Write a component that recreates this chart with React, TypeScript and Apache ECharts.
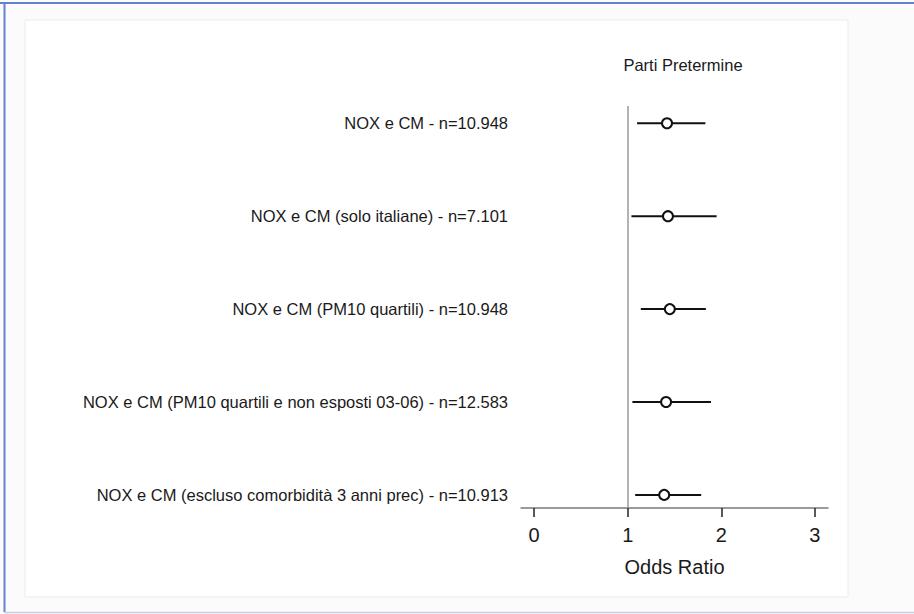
import React, { useEffect, useRef } from "react";
import * as echarts from "echarts";

const categories = [
  "NOX e CM - n=10.948",
  "NOX e CM (solo italiane) - n=7.101",
  "NOX e CM (PM10 quartili) - n=10.948",
  "NOX e CM (PM10 quartili e non esposti 03-06) - n=12.583",
  "NOX e CM (escluso comorbidità 3 anni prec) - n=10.913",
];
const estimates = [1.42, 1.43, 1.45, 1.41, 1.39];
const lowerCI = [1.1, 1.04, 1.14, 1.05, 1.08];
const upperCI = [1.83, 1.95, 1.835, 1.89, 1.785];
const xTicks = [0, 1, 2, 3];
const rowIndex = [0, 1, 2, 3, 4];
const referenceValue = 1;
const titleText = "Parti Pretermine";
const xAxisName = "Odds Ratio";

const FONT = "'Liberation Sans', Arial, Helvetica, sans-serif";

export default function App() {
  const ref = useRef<HTMLDivElement>(null);
  useEffect(() => {
    document.body.style.margin = "0";
    if (!ref.current) return;
    const chart = echarts.init(ref.current, null, { renderer: "svg" });
    const ciData = rowIndex.map((r) => [lowerCI[r], upperCI[r], r]);
    const pointData = rowIndex.map((r) => [estimates[r], r]);
    chart.setOption({
      animation: false,
      backgroundColor: "#ffffff",
      textStyle: { fontFamily: FONT },
      title: {
        text: titleText,
        left: 678,
        top: 51,
        textAlign: "center",
        textStyle: { fontFamily: FONT, fontSize: 16.5, fontWeight: "normal", color: "#1a1a1a" },
      },
      graphic: [
        { type: "rect", z: -10, silent: true, shape: { x: 0, y: 0, width: 914, height: 614 }, style: { fill: "#fbfbfb" } },
        { type: "rect", z: -9, silent: true, shape: { x: 25, y: 20, width: 823, height: 577 }, style: { fill: "#ffffff", stroke: "#ebebeb", lineWidth: 1 } },
        { type: "line", z: -8, silent: true, shape: { x1: 0, y1: 3, x2: 914, y2: 3 }, style: { stroke: "#6282cf", lineWidth: 2 } },
        { type: "line", z: -8, silent: true, shape: { x1: 4.5, y1: 3, x2: 4.5, y2: 612 }, style: { stroke: "#6282cf", lineWidth: 2 } },
        { type: "line", z: -8, silent: true, shape: { x1: 4, y1: 612.5, x2: 914, y2: 612.5 }, style: { stroke: "#c6cfe2", lineWidth: 1.5 } },
      ],
      grid: { left: 521, right: 86, top: 106, bottom: 106, containLabel: false },
      xAxis: {
        type: "value",
        min: -0.14,
        max: 3.14,
        splitLine: { show: false },
        axisLine: { show: true, onZero: false, lineStyle: { color: "#7a7a7a", width: 1.5 } },
        axisTick: { show: true, length: 9, customValues: xTicks, lineStyle: { color: "#222", width: 1.5 } },
        axisLabel: { customValues: xTicks, fontSize: 20, color: "#1a1a1a", margin: 17, fontFamily: FONT },
        name: xAxisName,
        nameLocation: "middle",
        nameGap: 49,
        nameTextStyle: { fontSize: 20, color: "#1a1a1a", fontFamily: FONT },
      },
      yAxis: {
        type: "value",
        inverse: true,
        min: -0.186,
        max: 4.141,
        splitLine: { show: false },
        axisLine: { show: false, onZero: false },
        axisTick: { show: false },
        axisLabel: {
          customValues: rowIndex,
          formatter: (v: number) => categories[Math.round(v)] ?? "",
          fontSize: 16.5,
          color: "#1a1a1a",
          margin: 13,
          fontFamily: FONT,
        },
      },
      series: [
        {
          type: "custom",
          data: ciData,
          encode: { x: [0, 1], y: 2 },
          z: 3,
          renderItem: (params: any, api: any) => {
            const a = api.coord([api.value(0), api.value(2)]);
            const b = api.coord([api.value(1), api.value(2)]);
            return {
              type: "line",
              shape: { x1: a[0], y1: a[1], x2: b[0], y2: b[1] },
              style: { stroke: "#111", lineWidth: 2 },
            };
          },
        },
        {
          type: "scatter",
          data: pointData,
          symbol: "circle",
          symbolSize: 10,
          z: 5,
          itemStyle: { color: "#ffffff", borderColor: "#111", borderWidth: 2, opacity: 1 },
          markLine: {
            silent: true,
            symbol: ["none", "none"],
            label: { show: false },
            lineStyle: { color: "#9a9a9a", width: 1.5, type: "solid" },
            data: [{ xAxis: referenceValue }],
          },
        },
      ],
    });
    return () => chart.dispose();
  }, []);
  return <div ref={ref} style={{ width: 914, height: 614 }} />;
}
